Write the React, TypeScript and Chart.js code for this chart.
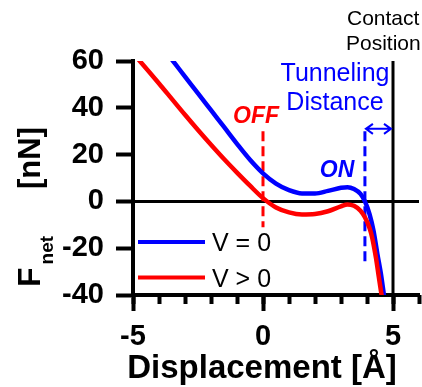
import React, { useEffect, useRef } from "react";
import { Chart, registerables } from "chart.js";

Chart.register(...registerables);

// ---- data ----
const dispV0 = [-3.6, -3.46, -3.0, -2.5, -2.0, -1.5, -1.0, -0.5, 0, 0.5, 1.0, 1.5, 2.0, 2.5, 3.0, 3.25, 3.5, 3.75, 3.92, 4.1, 4.25, 4.4, 4.55, 4.65, 4.7];
const forceV0 = [62, 60, 53.3, 46.2, 39, 31.8, 24.6, 17.8, 12, 7.6, 4.8, 3.4, 3.4, 4.5, 5.8, 6.1, 5.3, 3.2, 0, -5.5, -12.5, -22.5, -32, -40, -44];

const dispVpos = [-4.9, -4.74, -4.0, -3.5, -3.0, -2.5, -2.0, -1.5, -1.0, -0.5, 0, 0.5, 1.0, 1.5, 2.0, 2.5, 3.0, 3.25, 3.5, 3.75, 3.92, 4.1, 4.2, 4.35, 4.45, 4.56, 4.6];
const forceVpos = [62, 60, 50.4, 43.7, 37, 30.5, 24.2, 18.1, 12.3, 6.7, 1.4, -2.6, -4.7, -5.6, -5.4, -4.2, -2.1, -1.3, -1.9, -4.0, -6.8, -11.5, -15.5, -24.5, -32, -40, -43];

const seriesNames = ["V = 0", "V > 0"];
const xMajorTicks = [-5, 0, 5];
const xRange = [-5, 6];
const yRange = [-40, 60];
const yStep = 20;

const offX = 0;         // OFF marker displacement
const offSpan = [30, -11];
const onX = 3.92;       // ON / tunneling marker displacement
const onSpan = [30, -26];
const contactX = 5;     // contact position
const arrowF = 31;      // height of tunneling-distance arrow

const BLUE = "#0000ff";
const RED = "#ff0000";
const FONT = '"Liberation Sans", Arial, sans-serif';

const toPts = (xs: number[], ys: number[]) => xs.map((x, i) => ({ x, y: ys[i] }));

const annotations = {
  id: "annotations",
  afterDraw(chart: any) {
    const { ctx, scales } = chart;
    const x = scales.x;
    const y = scales.y;
    const ca = chart.chartArea;
    ctx.save();

    // double arrow (tunneling distance)
    const ay = y.getPixelForValue(arrowF);
    const a1 = x.getPixelForValue(onX) + 1;
    const a2 = x.getPixelForValue(contactX) - 2;
    ctx.strokeStyle = BLUE;
    ctx.lineWidth = 2;
    ctx.beginPath();
    ctx.moveTo(a1, ay);
    ctx.lineTo(a2, ay);
    ctx.moveTo(a1 + 7, ay - 5);
    ctx.lineTo(a1, ay);
    ctx.lineTo(a1 + 7, ay + 5);
    ctx.moveTo(a2 - 7, ay - 5);
    ctx.lineTo(a2, ay);
    ctx.lineTo(a2 - 7, ay + 5);
    ctx.stroke();

    // texts
    ctx.textBaseline = "alphabetic";
    ctx.fillStyle = "#000";
    ctx.textAlign = "left";
    ctx.font = `21px ${FONT}`;
    ctx.fillText("Contact", 347, 25);
    ctx.fillText("Position", 346, 49.5);

    ctx.fillStyle = BLUE;
    ctx.textAlign = "center";
    ctx.font = `25px ${FONT}`;
    ctx.fillText("Tunneling", 335, 81);
    ctx.fillText("Distance", 335, 110);

    ctx.font = `italic bold 23px ${FONT}`;
    ctx.fillStyle = RED;
    ctx.fillText("OFF", x.getPixelForValue(offX) - 7, 123);
    ctx.fillStyle = BLUE;
    ctx.fillText("ON", 337, 177);

    // legend
    const lg = [
      { c: BLUE, t: seriesNames[0], yy: 242 },
      { c: RED, t: seriesNames[1], yy: 277.5 },
    ];
    ctx.textAlign = "left";
    ctx.font = `25px ${FONT}`;
    lg.forEach((l) => {
      ctx.strokeStyle = l.c;
      ctx.lineWidth = 4;
      ctx.beginPath();
      ctx.moveTo(ca.left + 5, l.yy);
      ctx.lineTo(ca.left + 72, l.yy);
      ctx.stroke();
      ctx.fillStyle = "#000";
      ctx.fillText(l.t, 212, l.yy + 9);
    });

    // y title
    ctx.fillStyle = "#000";
    ctx.translate(40, 287);
    ctx.rotate(-Math.PI / 2);
    ctx.font = `bold 32px ${FONT}`;
    ctx.fillText("F", 0, 0);
    const fw = ctx.measureText("F").width;
    ctx.font = `bold 19px ${FONT}`;
    ctx.fillText("net", fw + 3, 13);
    ctx.font = `bold 31px ${FONT}`;
    ctx.fillText("[nN]", 98, 0);
    ctx.restore();

    // x title
    ctx.save();
    ctx.fillStyle = "#000";
    ctx.textAlign = "center";
    ctx.font = `bold 33px ${FONT}`;
    ctx.fillText("Displacement [Å]", 262, 378);
    ctx.restore();
  },
};

export default function App() {
  const ref = useRef<HTMLCanvasElement>(null);
  useEffect(() => {
    if (!ref.current) return;
    const chart = new Chart(ref.current, {
      type: "line",
      data: {
        datasets: [
          {
            label: seriesNames[1],
            data: toPts(dispVpos, forceVpos),
            borderColor: RED,
            borderWidth: 4.5,
            pointRadius: 0,
            cubicInterpolationMode: "monotone",
            order: 0,
          },
          {
            label: seriesNames[0],
            data: toPts(dispV0, forceV0),
            borderColor: BLUE,
            borderWidth: 4.5,
            pointRadius: 0,
            cubicInterpolationMode: "monotone",
            order: 1,
          },
          {
            label: "off",
            data: [{ x: offX, y: offSpan[0] }, { x: offX, y: offSpan[1] }],
            borderColor: RED,
            borderWidth: 3,
            borderDash: [10, 5],
            pointRadius: 0,
            order: 2,
          },
          {
            label: "on",
            data: [{ x: onX, y: onSpan[0] }, { x: onX, y: onSpan[1] }],
            borderColor: BLUE,
            borderWidth: 3,
            borderDash: [10, 5],
            pointRadius: 0,
            order: 2,
          },
          {
            label: "zero",
            data: [{ x: xRange[0], y: 0 }, { x: xRange[1], y: 0 }],
            borderColor: "#000",
            borderWidth: 3,
            pointRadius: 0,
            order: 3,
          },
          {
            label: "contact",
            data: [{ x: contactX, y: yRange[0] }, { x: contactX, y: yRange[1] }],
            borderColor: "#000",
            borderWidth: 3,
            pointRadius: 0,
            order: 3,
          },
        ],
      },
      options: {
        responsive: false,
        animation: false,
        layout: { padding: { top: 61, right: 3, left: 0, bottom: 0 } },
        plugins: { legend: { display: false }, tooltip: { enabled: false } },
        scales: {
          x: {
            type: "linear",
            position: "bottom",
            min: xRange[0],
            max: xRange[1],
            weight: 1,
            afterFit: (s: any) => { s.height = 92; },
            border: { display: true, color: "#000", width: 4 },
            grid: { drawOnChartArea: false, drawTicks: true, tickLength: 16, tickWidth: 4, tickColor: "#000" },
            ticks: {
              includeBounds: false,
              stepSize: 5,
              autoSkip: false,
              maxRotation: 0,
              padding: 9,
              color: "#000",
              font: { family: FONT, size: 29, weight: "bold" },
              callback: (v: any) => (xMajorTicks.includes(Number(v)) ? String(v) : ""),
            },
          },
          x2: {
            type: "linear",
            position: "bottom",
            min: xRange[0],
            max: xRange[1],
            weight: 0,
            afterFit: (s: any) => { s.height = 0; },
            border: { display: false },
            grid: { drawOnChartArea: false, drawTicks: true, tickLength: 9, tickWidth: 4, tickColor: "#000" },
            ticks: { display: false, stepSize: 1 },
          },
          y: {
            type: "linear",
            min: yRange[0],
            max: yRange[1],
            afterFit: (s: any) => { s.width = 133; },
            border: { display: true, color: "#000", width: 4 },
            grid: { drawOnChartArea: false, drawTicks: true, tickLength: 17, tickWidth: 4, tickColor: "#000" },
            ticks: {
              stepSize: yStep,
              padding: 12,
              color: "#000",
              font: { family: FONT, size: 29, weight: "bold" },
            },
          },
        },
      },
      plugins: [annotations],
    } as any);
    return () => chart.destroy();
  }, []);
  return (
    <div style={{ position: "fixed", left: 0, top: 0, width: 422, height: 387, background: "#fff" }}>
      <canvas ref={ref} width={422} height={387} />
    </div>
  );
}
